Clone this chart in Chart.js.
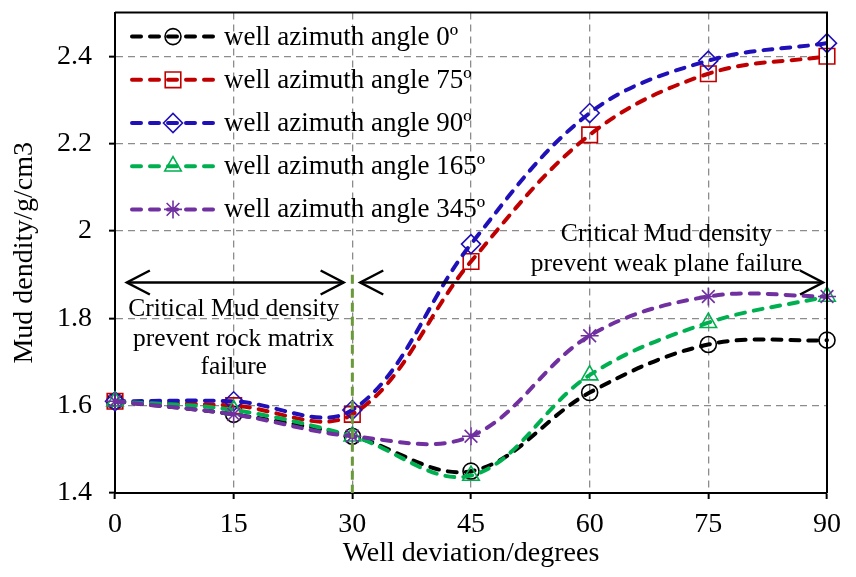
<!DOCTYPE html>
<html>
<head>
<meta charset="utf-8">
<script src="https://cdn.jsdelivr.net/npm/chart.js@4.4.0/dist/chart.umd.min.js"></script>
<style>
  html, body { margin: 0; padding: 0; background: #ffffff; }
  #wrap { width: 856px; height: 577px; }
</style>
</head>
<body>
<div id="wrap"><canvas id="chart" width="856" height="577"></canvas></div>
<script>
// Well deviation (degrees) on the horizontal axis
const deviation = [0, 15, 30, 45, 60, 75, 90];

// Critical mud density (g/cm3) for each well azimuth
const seriesNames = [
  'well azimuth angle 0º',
  'well azimuth angle 75º',
  'well azimuth angle 90º',
  'well azimuth angle 165º',
  'well azimuth angle 345º'
];
const az0   = [1.61, 1.58, 1.53, 1.45, 1.63, 1.74, 1.75];
const az75  = [1.61, 1.60, 1.58, 1.93, 2.22, 2.36, 2.40];
const az90  = [1.61, 1.61, 1.59, 1.97, 2.27, 2.39, 2.43];
const az165 = [1.61, 1.59, 1.53, 1.44, 1.67, 1.79, 1.85];
const az345 = [1.61, 1.58, 1.53, 1.53, 1.76, 1.85, 1.85];

// Axis ticks
const xTicks = [0, 15, 30, 45, 60, 75, 90];
const yTicks = [1.4, 1.6, 1.8, 2.0, 2.2, 2.4];
const yTickLabels = ['1.4', '1.6', '1.8', '2', '2.2', '2.4'];

// Region notes (in axis units)
const boundaryDeviation = 30;
const boundaryTop = 1.9;
const leftArrow = { x1: 1.5, x2: 28.9, y: 1.882 };
const rightArrow = { x1: 31.0, x2: 89.5, y: 1.882 };
const leftNote = { x: 15, lines: ['Critical Mud density', 'prevent rock matrix', 'failure'], ys: [1.820, 1.751, 1.687] };
const rightNote = { x: 69.7, lines: ['Critical Mud density', 'prevent weak plane failure'], ys: [1.992, 1.923] };

const seriesValues = [az0, az75, az90, az165, az345];
const colors = ['#000000', '#c00000', '#1f10b8', '#00b050', '#7030a0'];
const pointStyles = ['circle', 'rect', 'rectRot', 'triangle', 'star'];
const pointRadii = [8, 11, 9.5, 9.5, 9];
const lineDash = [9, 9];
const serif = '"Liberation Serif", "Times New Roman", serif';

const datasets = seriesValues.map((vals, i) => ({
  label: seriesNames[i],
  data: vals.map((v, k) => ({ x: deviation[k], y: v })),
  borderColor: colors[i],
  borderWidth: 4,
  borderDash: lineDash,
  borderCapStyle: 'round',
  tension: 0.36,
  fill: false,
  clip: false,
  pointStyle: pointStyles[i],
  pointRadius: pointRadii[i],
  pointHoverRadius: pointRadii[i],
  pointBorderColor: colors[i],
  pointBackgroundColor: 'rgba(0,0,0,0)',
  pointBorderWidth: 1.6,
  order: seriesValues.length - i
}));

function drawMarker(ctx, style, radius, x, y) {
  if (Chart.helpers && Chart.helpers.drawPoint) {
    Chart.helpers.drawPoint(ctx, { pointStyle: style, radius: radius, borderWidth: 1.6, rotation: 0 }, x, y);
    return;
  }
  ctx.beginPath();
  ctx.arc(x, y, radius, 0, Math.PI * 2);
  ctx.stroke();
}

function drawArrowHead(ctx, x, y, dir) {
  ctx.beginPath();
  ctx.moveTo(x - dir * 23, y - 12);
  ctx.lineTo(x, y);
  ctx.lineTo(x - dir * 23, y + 12);
  ctx.stroke();
}

const framePlugin = {
  id: 'frameAndNotes',
  afterDatasetsDraw(chart) {
    const { ctx, chartArea: ca, scales: { x, y } } = chart;
    ctx.save();

    // Boundary between the two failure regimes
    ctx.strokeStyle = '#6a9a3a';
    ctx.lineWidth = 3;
    ctx.setLineDash([9, 5]);
    const bx = x.getPixelForValue(boundaryDeviation);
    ctx.beginPath();
    ctx.moveTo(bx, y.getPixelForValue(boundaryTop));
    ctx.lineTo(bx, y.getPixelForValue(yTicks[0]));
    ctx.stroke();
    ctx.setLineDash([]);

    // Top and right frame
    ctx.strokeStyle = '#000';
    ctx.lineWidth = 2;
    ctx.beginPath();
    ctx.moveTo(ca.left, ca.top);
    ctx.lineTo(ca.right, ca.top);
    ctx.lineTo(ca.right, ca.bottom);
    ctx.stroke();

    // Double arrows
    ctx.lineWidth = 2.5;
    [leftArrow, rightArrow].forEach(a => {
      const x1 = x.getPixelForValue(a.x1), x2 = x.getPixelForValue(a.x2), ay = y.getPixelForValue(a.y);
      ctx.beginPath();
      ctx.moveTo(x1, ay);
      ctx.lineTo(x2, ay);
      ctx.stroke();
      drawArrowHead(ctx, x1, ay, -1);
      drawArrowHead(ctx, x2, ay, 1);
    });

    // Region notes
    ctx.fillStyle = '#000';
    ctx.font = '25.5px ' + serif;
    ctx.textAlign = 'center';
    ctx.textBaseline = 'middle';
    [leftNote, rightNote].forEach(n => {
      n.lines.forEach((t, k) => ctx.fillText(t, x.getPixelForValue(n.x), y.getPixelForValue(n.ys[k])));
    });

    // Legend inside the plot area
    ctx.textAlign = 'left';
    ctx.font = '27px ' + serif;
    chart.data.datasets.forEach((ds, i) => {
      const ly = ca.top + 24 + i * 43.2;
      ctx.strokeStyle = ds.borderColor;
      ctx.lineWidth = 4;
      ctx.lineCap = 'round';
      ctx.setLineDash(lineDash);
      ctx.beginPath();
      ctx.moveTo(ca.left + 17, ly);
      ctx.lineTo(ca.left + 100, ly);
      ctx.stroke();
      ctx.setLineDash([]);
      ctx.lineCap = 'butt';
      ctx.lineWidth = 1.6;
      ctx.fillStyle = 'rgba(0,0,0,0)';
      drawMarker(ctx, ds.pointStyle, ds.pointRadius, ca.left + 58, ly);
      ctx.fillStyle = '#000';
      ctx.fillText(ds.label, ca.left + 109, ly + 1);
    });
    ctx.restore();
  }
};

new Chart(document.getElementById('chart'), {
  type: 'line',
  data: { datasets },
  options: {
    responsive: false,
    animation: false,
    devicePixelRatio: 1,
    layout: { padding: { top: 11, right: 29, left: 0, bottom: 0 } },
    plugins: { legend: { display: false }, tooltip: { enabled: false } },
    scales: {
      x: {
        type: 'linear',
        min: 0,
        max: 90,
        afterBuildTicks: s => { s.ticks = xTicks.map(v => ({ value: v })); },
        afterFit: s => { s.height = 84; s.paddingLeft = 0; s.paddingRight = 0; },
        ticks: {
          color: '#000',
          font: { family: serif, size: 28 },
          padding: 9,
          maxRotation: 0,
          callback: v => String(v)
        },
        grid: { color: '#8c8c8c', lineWidth: 1.3, tickColor: '#000', tickWidth: 2, tickLength: 6, tickBorderDash: [] },
        border: { display: true, color: '#000', width: 2, dash: [7, 5] },
        title: { display: true, text: 'Well deviation/degrees', color: '#000', font: { family: serif, size: 28 }, padding: { top: 0, bottom: 7 } }
      },
      y: {
        type: 'linear',
        min: 1.4,
        max: 2.5,
        afterBuildTicks: s => { s.ticks = yTicks.map(v => ({ value: v })); },
        afterFit: s => { s.width = 115; s.paddingTop = 0; s.paddingBottom = 0; },
        ticks: {
          color: '#000',
          font: { family: serif, size: 28 },
          padding: 17,
          callback: v => { const k = yTicks.findIndex(t => Math.abs(t - v) < 1e-6); return k >= 0 ? yTickLabels[k] : ''; }
        },
        grid: { color: '#8c8c8c', lineWidth: 1.3, tickColor: '#000', tickWidth: 2, tickLength: 6, tickBorderDash: [] },
        border: { display: true, color: '#000', width: 2, dash: [7, 5] },
        title: { display: true, text: 'Mud dendity/g/cm3', color: '#000', font: { family: serif, size: 28 }, padding: { top: 8, bottom: 0 } }
      }
    }
  },
  plugins: [framePlugin]
});
</script>
</body>
</html>
